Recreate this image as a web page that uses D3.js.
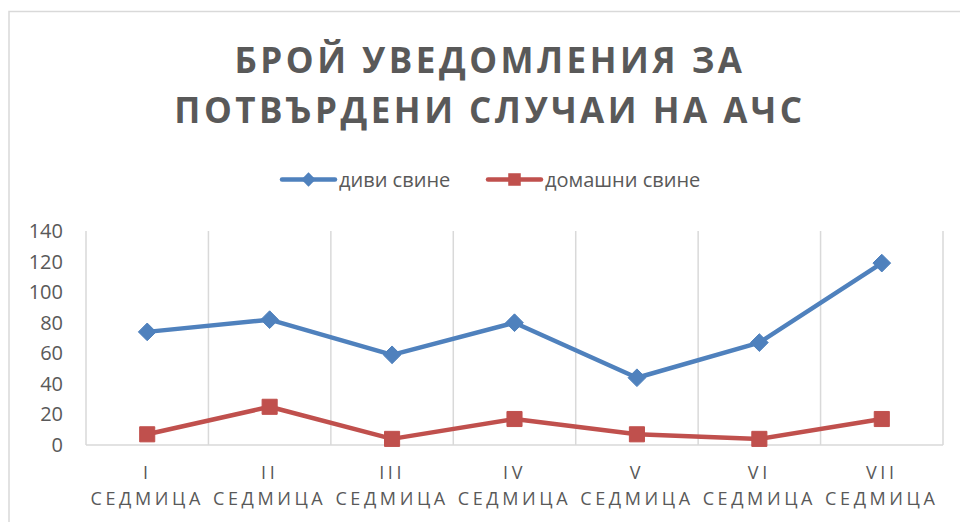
<!DOCTYPE html>
<html>
<head>
<meta charset="utf-8">
<script src="https://cdn.jsdelivr.net/npm/d3@7"></script>
<style>
  body { margin: 0; background: #fff; }
  svg { display: block; }
  .title { font: bold 35px "Open Sans", sans-serif; fill: #595959; letter-spacing: 3.5px; }
  .legend text { font: 20px "Open Sans", sans-serif; fill: #595959; }
  .ytick { font: 20px "Open Sans", sans-serif; fill: #595959; }
  .xtick { font: 18px "Open Sans", sans-serif; fill: #595959; letter-spacing: 3.6px; }
</style>
</head>
<body>
<div id="chart"></div>
<script>
// data
const weeks = ["I", "II", "III", "IV", "V", "VI", "VII"];
const weekWord = "СЕДМИЦА";
const wildBoar = [74, 82, 59, 80, 44, 67, 119];
const domesticPigs = [7, 25, 4, 17, 7, 4, 17];
const yTicks = [0, 20, 40, 60, 80, 100, 120, 140];
const titleLines = ["БРОЙ УВЕДОМЛЕНИЯ ЗА", "ПОТВЪРДЕНИ СЛУЧАИ НА АЧС"];

const series = [
  { name: "диви свине", values: wildBoar, color: "#4f81bd", symbol: d3.symbolDiamond2 },
  { name: "домашни свине", values: domesticPigs, color: "#c0504d", symbol: d3.symbolSquare2 },
];

const width = 960, height = 522;
const plot = { left: 86, right: 943, top: 231, bottom: 445 };

const svg = d3.select("#chart").append("svg")
  .attr("width", width)
  .attr("height", height);

// chart-area border (right/bottom edges fall outside the frame)
svg.append("rect")
  .attr("x", 9).attr("y", 11.5)
  .attr("width", 1000).attr("height", 600)
  .attr("fill", "none")
  .attr("stroke", "#d9d9d9")
  .attr("stroke-width", 1.5);

// title
svg.append("g").selectAll("text")
  .data(titleLines)
  .join("text")
  .attr("class", "title")
  .attr("x", 490)
  .attr("y", (d, i) => 72.5 + i * 50)
  .attr("text-anchor", "middle")
  .text(d => d);

// scales
const x = d3.scaleBand().domain(weeks).range([plot.left, plot.right]);
const y = d3.scaleLinear().domain([0, 140]).range([plot.bottom, plot.top]);

// vertical gridlines at category boundaries
const bounds = weeks.map(w => x(w)).concat([plot.right]);
svg.append("g").selectAll("line")
  .data(bounds)
  .join("line")
  .attr("x1", d => d).attr("x2", d => d)
  .attr("y1", plot.top).attr("y2", plot.bottom)
  .attr("stroke", "#d9d9d9")
  .attr("stroke-width", 1.5);

// category axis line
svg.append("line")
  .attr("x1", plot.left).attr("x2", plot.right)
  .attr("y1", y(0)).attr("y2", y(0))
  .attr("stroke", "#d9d9d9")
  .attr("stroke-width", 1.5);

// y tick labels
svg.append("g").selectAll("text")
  .data(yTicks)
  .join("text")
  .attr("class", "ytick")
  .attr("x", 63)
  .attr("y", d => y(d))
  .attr("dy", "0.35em")
  .attr("text-anchor", "end")
  .text(d => d);

// x tick labels (two lines)
const xt = svg.append("g").selectAll("g")
  .data(weeks)
  .join("g")
  .attr("transform", d => `translate(${x(d) + x.bandwidth() / 2},0)`);
xt.append("text")
  .attr("class", "xtick")
  .attr("y", 478.5)
  .attr("text-anchor", "middle")
  .text(d => d);
xt.append("text")
  .attr("class", "xtick")
  .attr("y", 505)
  .attr("text-anchor", "middle")
  .text(weekWord);

// lines + markers
const line = d3.line()
  .x((d, i) => x(weeks[i]) + x.bandwidth() / 2)
  .y(d => y(d));

for (const s of series) {
  svg.append("path")
    .datum(s.values)
    .attr("d", line)
    .attr("fill", "none")
    .attr("stroke", s.color)
    .attr("stroke-width", 4.5)
    .attr("stroke-linejoin", "round")
    .attr("stroke-linecap", "round");

  svg.append("g").selectAll("path")
    .data(s.values)
    .join("path")
    .attr("transform", (d, i) => `translate(${x(weeks[i]) + x.bandwidth() / 2},${y(d)})`)
    .attr("d", d3.symbol(s.symbol, s.symbol === d3.symbolSquare2 ? 290 : 200))
    .attr("fill", s.color)
    .attr("stroke", s.color)
    .attr("stroke-width", 1);
}

// legend
const legendItems = [
  { ...series[0], x0: 282 },
  { ...series[1], x0: 488 },
];
const lg = svg.append("g").attr("class", "legend");
for (const it of legendItems) {
  const g = lg.append("g").attr("transform", `translate(${it.x0},179.5)`);
  g.append("line")
    .attr("x1", 0).attr("x2", 53)
    .attr("stroke", it.color)
    .attr("stroke-width", 4.5)
    .attr("stroke-linecap", "round");
  g.append("path")
    .attr("transform", "translate(26.5,0)")
    .attr("d", d3.symbol(it.symbol, it.symbol === d3.symbolSquare2 ? 200 : 130))
    .attr("fill", it.color);
  g.append("text")
    .attr("x", 57)
    .attr("dy", "0.35em")
    .text(it.name);
}
</script>
</body>
</html>
